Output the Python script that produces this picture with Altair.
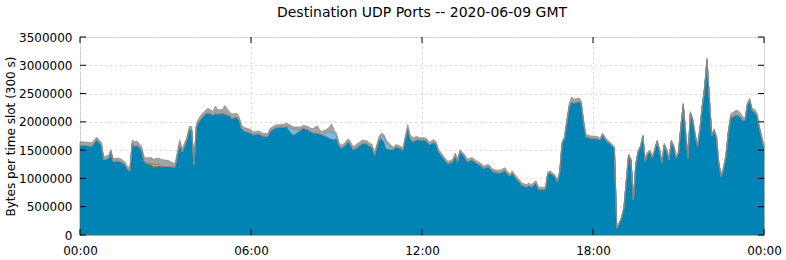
import altair as alt
import pandas as pd

TITLE = "Destination UDP Ports -- 2020-06-09 GMT"
Y_TITLE = "Bytes per time slot (300 s)"

# time of slot (minutes after 00:00 GMT)
minutes = [0, 15, 25, 35, 45, 50, 60, 65, 70, 80, 85, 95, 100, 105, 110, 115, 120, 130, 135, 140,
           150, 155, 165, 170, 180, 185, 190, 200, 205, 210, 215, 225, 230, 235, 240, 245, 250, 255, 265, 270,
           280, 285, 290, 300, 305, 315, 320, 330, 335, 340, 345, 350, 360, 365, 375, 380, 385, 395, 400, 410,
           415, 420, 430, 435, 445, 450, 455, 465, 470, 480, 485, 490, 500, 505, 510, 520, 525, 530, 535, 540,
           545, 550, 555, 565, 570, 575, 580, 590, 595, 605, 610, 615, 620, 630, 635, 640, 645, 655, 660, 665,
           675, 680, 685, 690, 695, 700, 710, 715, 725, 730, 735, 745, 750, 755, 765, 770, 775, 785, 790, 795,
           800, 810, 815, 825, 830, 835, 845, 850, 860, 865, 870, 880, 885, 895, 900, 905, 910, 920, 925, 930,
           940, 945, 950, 960, 965, 975, 980, 985, 990, 1000, 1005, 1010, 1015, 1020, 1025, 1030, 1035, 1040, 1050, 1055,
           1060, 1065, 1075, 1080, 1090, 1095, 1100, 1110, 1115, 1125, 1130, 1135, 1140, 1145, 1155, 1160, 1165, 1170, 1175, 1180,
           1185, 1190, 1195, 1200, 1205, 1215, 1220, 1225, 1230, 1235, 1240, 1245, 1250, 1255, 1260, 1265, 1270, 1275, 1280, 1285,
           1290, 1295, 1300, 1305, 1310, 1315, 1320, 1325, 1330, 1335, 1340, 1345, 1350, 1355, 1360, 1365, 1370, 1375, 1380, 1385,
           1390, 1395, 1400, 1405, 1410, 1415, 1420, 1425, 1430, 1435, 1440]

# main port (thousands of bytes per slot)
main_k = [1590, 1580, 1570, 1690, 1590, 1330, 1360, 1470, 1300, 1310, 1300, 1240, 1160, 1140, 1620, 1570, 1590, 1500, 1300, 1270,
          1240, 1200, 1220, 1220, 1210, 1210, 1210, 1200, 1410, 1620, 1470, 1680, 1860, 1860, 1240, 1910, 2000, 2060, 2150, 2160,
          2120, 2150, 2140, 2150, 2140, 2110, 2060, 2090, 2030, 1890, 1840, 1830, 1800, 1770, 1790, 1770, 1750, 1740, 1830, 1890,
          1900, 1910, 1910, 1920, 1800, 1770, 1800, 1860, 1890, 1860, 1830, 1810, 1800, 1790, 1770, 1740, 1710, 1700, 1690, 1710,
          1590, 1530, 1560, 1650, 1590, 1510, 1530, 1590, 1620, 1610, 1570, 1550, 1410, 1680, 1710, 1650, 1530, 1510, 1510, 1560,
          1530, 1500, 1710, 1890, 1710, 1650, 1690, 1680, 1680, 1660, 1600, 1640, 1600, 1470, 1360, 1300, 1260, 1300, 1410, 1300,
          1470, 1380, 1300, 1330, 1300, 1270, 1220, 1180, 1210, 1160, 1120, 1100, 1100, 1140, 1080, 1040, 1090, 980, 940, 880,
          850, 880, 850, 920, 810, 800, 820, 1090, 1100, 1030, 940, 1110, 1620, 1710, 2000, 2270, 2360, 2330, 2360, 2330,
          2000, 1740, 1710, 1710, 1700, 1680, 1770, 1650, 1620, 1530, 120, 200, 300, 470, 1410, 1320, 620, 1240, 1470, 1560,
          1740, 1300, 1440, 1470, 1360, 1650, 1500, 1270, 1590, 1500, 1330, 1650, 1560, 1360, 1450, 1910, 2300, 1800, 1360, 2150,
          2030, 1770, 1560, 1860, 2270, 2600, 3090, 2400, 1750, 1850, 1720, 1250, 1030, 1180, 1400, 1820, 2090, 2090, 2120, 2120,
          2090, 2030, 2030, 2300, 2380, 2200, 2180, 2120, 1900, 1720, 1550]

# other ports (thousands of bytes per slot)
gray_k = [60, 60, 60, 40, 50, 50, 50, 40, 50, 50, 50, 50, 40, 40, 60, 80, 70, 60, 80, 90,
          100, 90, 110, 120, 110, 110, 90, 60, 60, 60, 50, 50, 60, 60, 50, 60, 60, 60, 60, 80,
          60, 130, 70, 70, 150, 60, 80, 60, 60, 60, 60, 60, 60, 50, 50, 50, 50, 50, 50, 50,
          50, 40, 50, 60, 50, 40, 50, 50, 50, 60, 60, 70, 130, 60, 60, 50, 80, 150, 60, 50,
          50, 50, 50, 50, 50, 50, 60, 60, 60, 50, 50, 50, 50, 40, 40, 40, 40, 40, 40, 40,
          40, 40, 40, 60, 60, 70, 50, 40, 40, 40, 40, 50, 40, 40, 40, 40, 40, 40, 40, 40,
          40, 40, 40, 40, 40, 40, 40, 40, 40, 40, 40, 40, 50, 50, 40, 40, 40, 40, 40, 40,
          40, 40, 40, 40, 40, 40, 30, 30, 30, 30, 30, 30, 30, 30, 40, 60, 80, 70, 60, 50,
          40, 40, 40, 40, 40, 30, 30, 30, 30, 30, 10, 10, 10, 20, 20, 20, 20, 20, 20, 20,
          30, 30, 30, 30, 30, 30, 30, 30, 30, 30, 30, 30, 30, 30, 30, 30, 30, 30, 30, 30,
          30, 30, 30, 30, 30, 30, 40, 30, 30, 30, 30, 30, 40, 30, 30, 30, 50, 80, 80, 80,
          70, 60, 40, 40, 40, 40, 40, 40, 40, 40, 40]

# light-blue and orange ports: only slots where they are visible
lightblue_k = {445: 80, 450: 100, 455: 60, 520: 80, 525: 120, 530: 110, 535: 100, 540: 40,
               630: 30, 635: 50, 640: 80, 645: 100, 655: 30}
orange_k = {150: 30, 155: 50, 165: 30}

layers = ["main", "orange", "lightblue", "other"]
fills = ["#0083b5", "#e69f00", "#74bfe6", "#a3a3a3"]
strokes = ["#3f7060", "#c07a10", "#5aa0c8", "#858585"]

x_ticks = [0, 360, 720, 1080, 1440]
x_labels = ["00:00", "06:00", "12:00", "18:00", "00:00"]
y_ticks = [0, 500000, 1000000, 1500000, 2000000, 2500000, 3000000, 3500000]

rows = []
for i, m in enumerate(minutes):
    vals = [main_k[i], orange_k.get(m, 0), lightblue_k.get(m, 0), gray_k[i]]
    for k, (name, v) in enumerate(zip(layers, vals)):
        rows.append({"minute": m, "bytes": v * 1000, "layer": name, "k": k})
df = pd.DataFrame(rows)

label_expr = " : ".join(f"datum.value == {v} ? '{l}'" for v, l in zip(x_ticks, x_labels)) + " : ''"

W, H = 684, 198
FONT = "DejaVu Sans"

xscale = alt.Scale(domain=[0, 1440], nice=False)
yscale = alt.Scale(domain=[0, 3500000], nice=False)

x_axis = alt.Axis(values=x_ticks, labelExpr=label_expr, grid=True, gridDash=[1, 4],
                  gridColor="#b4b4b4", gridWidth=1, ticks=False, domain=False, title=None,
                  labelFlush=False, labelOverlap=False,
                  labelPadding=10, labelFontSize=12, labelFont=FONT, labelColor="black")
y_axis = alt.Axis(values=y_ticks, format="d", grid=True, gridDash=[1, 4],
                  gridColor="#b4b4b4", gridWidth=1, ticks=False, domain=False,
                  labelFlush=False, labelOverlap=False,
                  labelPadding=8, labelFontSize=12, labelFont=FONT, labelColor="black",
                  title=Y_TITLE, titleFont=FONT, titleFontSize=12,
                  titleFontWeight="normal", titleColor="black", titleAngle=-90,
                  titleX=-70, titleY=H / 2, titleAlign="center", titleBaseline="middle")

area = alt.Chart(df).mark_area(interpolate="linear", strokeWidth=0.7, fillOpacity=1).encode(
    x=alt.X("minute:Q", scale=xscale, axis=x_axis),
    y=alt.Y("bytes:Q", stack="zero", scale=yscale, axis=y_axis),
    color=alt.Color("layer:N", scale=alt.Scale(domain=layers, range=fills), legend=None),
    stroke=alt.Stroke("layer:N", scale=alt.Scale(domain=layers, range=strokes), legend=None),
    order=alt.Order("k:Q"),
)

ydf = pd.DataFrame({"bytes": y_ticks})
xdf = pd.DataFrame({"minute": x_ticks})

left_ticks = alt.Chart(ydf).mark_rule(color="black", strokeWidth=1).encode(
    y=alt.Y("bytes:Q", scale=yscale, axis=y_axis), x=alt.value(0), x2=alt.value(6))
right_ticks = alt.Chart(ydf).mark_rule(color="black", strokeWidth=1).encode(
    y=alt.Y("bytes:Q", scale=yscale, axis=y_axis), x=alt.value(W - 6), x2=alt.value(W))
bottom_ticks = alt.Chart(xdf).mark_rule(color="black", strokeWidth=1).encode(
    x=alt.X("minute:Q", scale=xscale, axis=x_axis), y=alt.value(H), y2=alt.value(H - 6))
top_ticks = alt.Chart(xdf).mark_rule(color="black", strokeWidth=1).encode(
    x=alt.X("minute:Q", scale=xscale, axis=x_axis), y=alt.value(0), y2=alt.value(6))

title_mark = alt.Chart(pd.DataFrame({"t": [TITLE]})).mark_text(
    font=FONT, fontSize=14, color="black", align="center", baseline="alphabetic"
).encode(text="t:N", x=alt.value(W / 2), y=alt.value(-20))

chart = alt.layer(area, left_ticks, right_ticks, bottom_ticks, top_ticks, title_mark).properties(
    width=W, height=H,
    autosize=alt.AutoSizeParams(type="none"),
    padding={"left": 80, "top": 37, "right": 22, "bottom": 25},
).configure_view(stroke="black", strokeWidth=1).configure(background="white")

chart.save("out.html", embed_options={"renderer": "svg", "actions": False})
